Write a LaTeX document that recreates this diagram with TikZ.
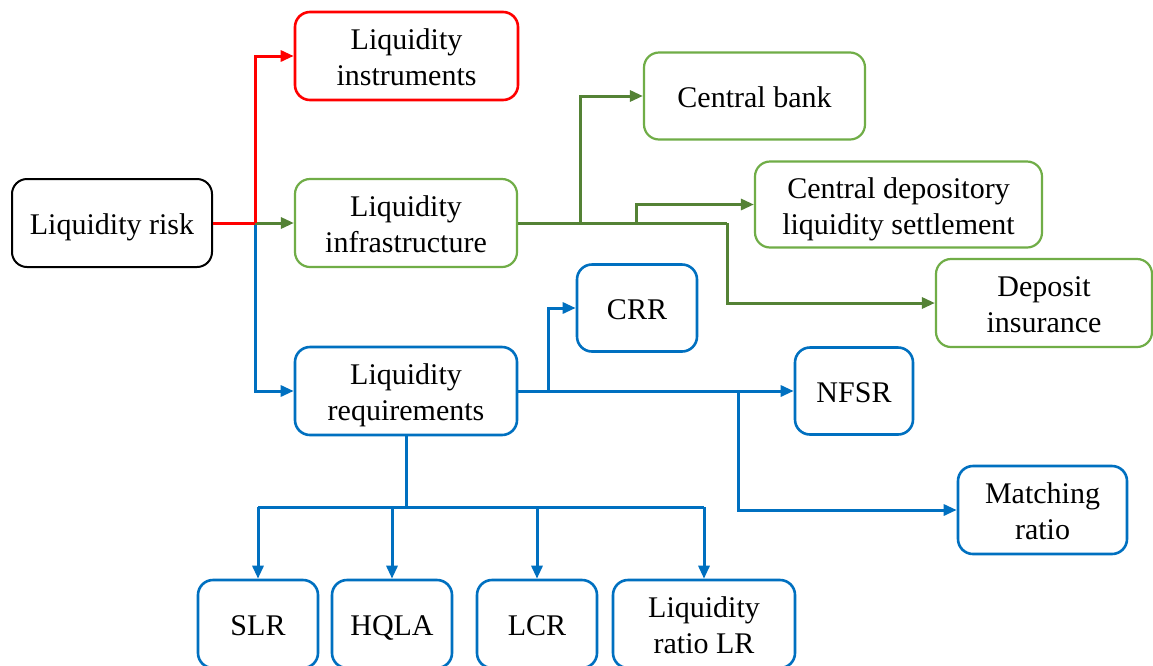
\documentclass[tikz,border=0pt]{standalone}
\usepackage{fontspec}
\setmainfont{Liberation Serif}
\usetikzlibrary{arrows.meta}
\definecolor{cred}{RGB}{255,0,0}
\definecolor{cgreenbox}{RGB}{112,173,71}
\definecolor{cgreen}{RGB}{84,130,53}
\definecolor{cblue}{RGB}{0,112,192}
\newcommand{\topst}{\rule{0pt}{30pt}}
\newcommand{\botst}{\rule[-7pt]{0pt}{7pt}}
\newcommand{\bxt}[1]{\topst#1\botst}
\tikzset{
  box/.style={draw, rounded corners=15pt, line width=2.6pt, inner sep=0pt,
    align=center, font=\fontsize{30}{36}\selectfont, text=black},
  redbox/.style={box, draw=cred},
  greenbox/.style={box, draw=cgreenbox, line width=2.2pt},
  bluebox/.style={box, draw=cblue},
  blackbox/.style={box, draw=black, line width=2pt},
  tip/.style={-{Triangle[length=13pt,width=11pt]}},
  rline/.style={draw=cred, line width=3pt},
  gline/.style={draw=cgreen, line width=3pt},
  bline/.style={draw=cblue, line width=3pt},
}
\begin{document}
\begin{tikzpicture}[x=1pt,y=-1pt]
\useasboundingbox (0,0) rectangle (1153,665);
\fill[white] (0,0) rectangle (1153,665);
% nodes (centres and sizes in pixels)
\node[blackbox, minimum width=200pt, minimum height=88pt] (risk) at (112,223) {\bxt{Liquidity risk}};
\node[redbox, minimum width=223pt, minimum height=88pt] (instr) at (406.5,56) {\topst Liquidity\\instruments\botst};
\node[greenbox, minimum width=222pt, minimum height=88pt] (infra) at (406,223) {\topst Liquidity\\infrastructure\botst};
\node[greenbox, minimum width=221pt, minimum height=87pt] (cb) at (754.5,96) {\bxt{Central bank}};
\node[greenbox, minimum width=287pt, minimum height=86pt] (cdls) at (898.5,204.5) {\topst Central depository\\liquidity settlement\botst};
\node[greenbox, minimum width=216pt, minimum height=88pt] (dep) at (1044,303) {\topst Deposit\\insurance\botst};
\node[bluebox, minimum width=120pt, minimum height=87pt] (crr) at (637,308) {\bxt{CRR}};
\node[bluebox, minimum width=222pt, minimum height=88pt] (req) at (406,391) {\topst Liquidity\\requirements\botst};
\node[bluebox, minimum width=118pt, minimum height=87pt] (nfsr) at (854,391) {\bxt{NFSR}};
\node[bluebox, minimum width=169pt, minimum height=88pt] (match) at (1042.5,510) {\topst Matching\\ratio\botst};
\node[bluebox, minimum width=120pt, minimum height=88pt] (slr) at (258,624) {\bxt{SLR}};
\node[bluebox, minimum width=120pt, minimum height=88pt] (hqla) at (392,624) {\bxt{HQLA}};
\node[bluebox, minimum width=120pt, minimum height=88pt] (lcr) at (537,624) {\bxt{LCR}};
\node[bluebox, minimum width=182pt, minimum height=88pt] (lr) at (704,624) {\topst Liquidity\\ratio LR\botst};
% junction coordinates
\coordinate (j1) at (255,223);
\coordinate (g1) at (580,223);
\coordinate (g2) at (636,223);
\coordinate (g3) at (727,223);
\coordinate (b1) at (548,391);
\coordinate (b2) at (738,391);
\coordinate (b3) at (406,507);
% blue connectors
\draw[bline, tip] (j1) |- (req.west);
\draw[bline, tip] (req.east) -- (nfsr.west);
\draw[bline, tip] (b1) |- (crr.west);
\draw[bline, tip] (b2) |- (match.west);
\draw[bline] (req.south) -- (b3);
\draw[bline] (slr.north |- b3) -- (lr.north |- b3);
\draw[bline, tip] (slr.north |- b3) -- (slr.north);
\draw[bline, tip] (hqla.north |- b3) -- (hqla.north);
\draw[bline, tip] (lcr.north |- b3) -- (lcr.north);
\draw[bline, tip] (lr.north |- b3) -- (lr.north);
% green connectors
\draw[gline, tip] (j1) -- (infra.west);
\draw[gline] (infra.east) -- (g3);
\draw[gline, tip] (g1) |- (cb.west);
\draw[gline, tip] (g2) |- (cdls.west);
\draw[gline, tip] (g3) |- (dep.west);
% red connectors
\draw[rline] (risk.east) -- (j1);
\draw[rline, tip] (j1) |- (instr.west);
\end{tikzpicture}
\end{document}
